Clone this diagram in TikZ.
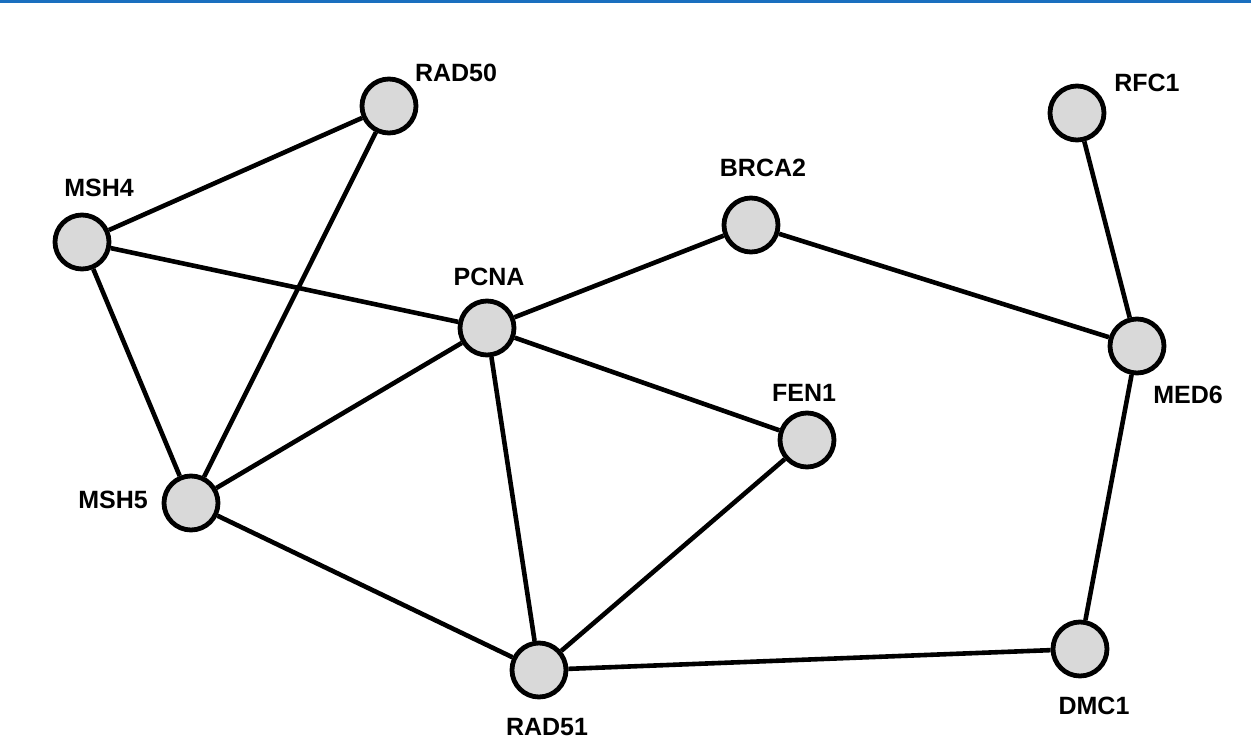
\documentclass[tikz,border=0pt]{standalone}
\usepackage{fontspec}
\setmainfont{Liberation Sans}
\definecolor{nodefill}{HTML}{D9D9D9}
\definecolor{topblue}{HTML}{1A6FBF}
\begin{document}
\begin{tikzpicture}[x=1pt,y=-1pt,
  gene/.style={circle,draw=black,line width=4.8pt,fill=nodefill,minimum size=54pt,inner sep=0pt},
  lbl/.style={font=\fontsize{25}{29}\selectfont\bfseries,inner sep=0pt},
  edge/.style={line width=4.6pt}]
\useasboundingbox (0,0) rectangle (1251,754);
\fill[topblue] (0,0) rectangle (1251,3);
\node[gene] (RAD50) at (389,106) {};
\node[gene] (RFC1) at (1077,113) {};
\node[gene] (MSH4) at (82,242) {};
\node[gene] (BRCA2) at (751,225) {};
\node[gene] (PCNA) at (487,328) {};
\node[gene] (MED6) at (1137,346) {};
\node[gene] (FEN1) at (807,440) {};
\node[gene] (MSH5) at (191,503) {};
\node[gene] (RAD51) at (539,670) {};
\node[gene] (DMC1) at (1080,649) {};
\node[lbl] (tRAD50) at (456,73) {RAD50};
\node[lbl] (tRFC1) at (1147,83) {RFC1};
\node[lbl] (tMSH4) at (99,188) {MSH4};
\node[lbl] (tBRCA2) at (763,168) {BRCA2};
\node[lbl] (tPCNA) at (489,277) {PCNA};
\node[lbl] (tMED6) at (1188,395) {MED6};
\node[lbl] (tFEN1) at (804,393) {FEN1};
\node[lbl] (tMSH5) at (113,500) {MSH5};
\node[lbl] (tRAD51) at (547,727) {RAD51};
\node[lbl] (tDMC1) at (1094,706) {DMC1};
\draw[edge] (MSH4) -- (RAD50);
\draw[edge] (MSH4) -- (PCNA);
\draw[edge] (MSH4) -- (MSH5);
\draw[edge] (RAD50) -- (MSH5);
\draw[edge] (MSH5) -- (PCNA);
\draw[edge] (MSH5) -- (RAD51);
\draw[edge] (PCNA) -- (BRCA2);
\draw[edge] (PCNA) -- (FEN1);
\draw[edge] (PCNA) -- (RAD51);
\draw[edge] (FEN1) -- (RAD51);
\draw[edge] (RAD51) -- (DMC1);
\draw[edge] (BRCA2) -- (MED6);
\draw[edge] (RFC1) -- (MED6);
\draw[edge] (MED6) -- (DMC1);
\end{tikzpicture}
\end{document}
